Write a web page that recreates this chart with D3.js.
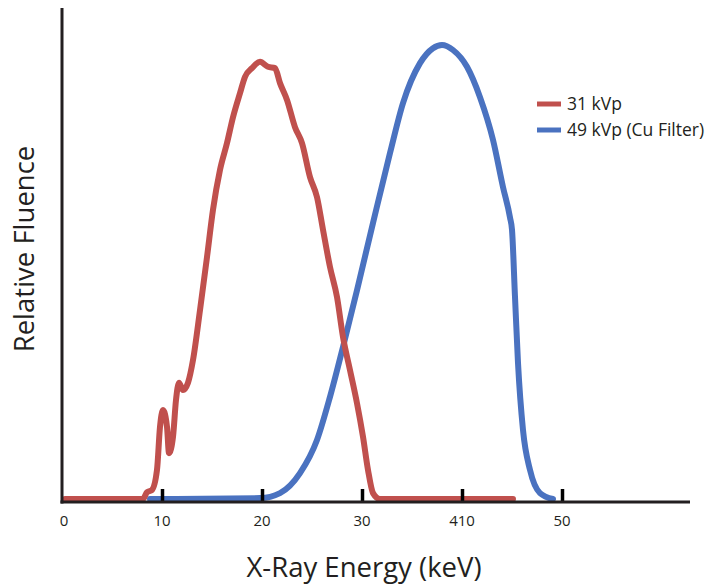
<!DOCTYPE html>
<html>
<head>
<meta charset="utf-8">
<script src="https://cdn.jsdelivr.net/npm/d3@7"></script>
<style>
  html, body { margin: 0; padding: 0; background: #fff; }
  svg { display: block; font-family: "Open Sans", "Noto Sans", sans-serif; }
</style>
</head>
<body>
<svg id="chart" width="710" height="584"></svg>
<script>
// ---- data ----
const seriesNames = ["31 kVp", "49 kVp (Cu Filter)"];
const seriesColors = ["#c0504d", "#4a72c0"];
const tickValues = [10, 20, 30, 40, 50];
const tickLabels = ["0", "10", "20", "30", "410", "50"];
const tickLabelValues = [0, 10, 20, 30, 40, 50];

const energy31 = [0.3, 8.1, 8.5, 9.0, 9.5, 9.8, 10.1, 10.5, 10.7, 11.1, 11.4, 11.7, 12.1, 12.6, 13.1, 13.8, 14.5, 15.1, 15.8, 16.5, 17.1, 17.8, 18.3, 19.0, 19.8, 20.6, 21.3, 21.8, 22.5, 23.3, 24.0, 24.8, 25.5, 26.1, 26.8, 27.5, 28.1, 28.8, 29.5, 30.1, 30.6, 31.1, 31.8, 45.1];
const fluence31 = [0, 0, 0.015, 0.02, 0.064, 0.159, 0.196, 0.159, 0.101, 0.137, 0.218, 0.256, 0.240, 0.256, 0.306, 0.416, 0.533, 0.637, 0.725, 0.784, 0.841, 0.894, 0.930, 0.949, 0.963, 0.952, 0.949, 0.916, 0.879, 0.819, 0.784, 0.709, 0.665, 0.593, 0.511, 0.445, 0.357, 0.284, 0.211, 0.137, 0.064, 0.013, 0, 0];

const energy49 = [8.8, 19.8, 21.8, 23.8, 25.5, 26.8, 28.1, 29.5, 31.1, 32.8, 34.1, 35.8, 37.1, 38.0, 39.1, 40.5, 41.8, 43.1, 44.1, 44.8, 45.0, 45.3, 45.6, 46.1, 46.8, 47.8, 49.1];
const fluence49 = [0, 0.002, 0.013, 0.057, 0.130, 0.225, 0.335, 0.460, 0.608, 0.762, 0.872, 0.960, 0.993, 1.0, 0.989, 0.952, 0.885, 0.791, 0.687, 0.62, 0.593, 0.445, 0.300, 0.152, 0.064, 0.013, 0];

// ---- chart ----
const svg = d3.select("#chart");
const x = d3.scaleLinear().domain([0, 62.8]).range([62, 690]);
const y = d3.scaleLinear().domain([0, 1]).range([499, 45]);
const axisY = 502;
const ink = "#231f20";

const series = [
  energy31.map((e, i) => ({ e, v: fluence31[i] })),
  energy49.map((e, i) => ({ e, v: fluence49[i] }))
];

const line = d3.line()
  .x(d => x(d.e))
  .y(d => y(d.v))
  .curve(d3.curveMonotoneX);

// curves (blue below red)
[1, 0].forEach(i => {
  svg.append("path")
    .attr("d", line(series[i]))
    .attr("fill", "none")
    .attr("stroke", seriesColors[i])
    .attr("stroke-width", 6)
    .attr("stroke-linejoin", "round")
    .attr("stroke-linecap", "round");
});

// y axis line
svg.append("line")
  .attr("x1", x(0)).attr("x2", x(0))
  .attr("y1", 8).attr("y2", axisY + 1.5)
  .attr("stroke", ink).attr("stroke-width", 3);

// x axis via d3 axis (ticks pointing up)
const xAxis = d3.axisTop(x)
  .tickValues(tickValues)
  .tickSize(13)
  .tickFormat("");
const gx = svg.append("g")
  .attr("transform", `translate(0,${axisY})`)
  .call(xAxis);
gx.select(".domain").remove();
gx.selectAll(".tick line").attr("stroke", "#000").attr("stroke-width", 3.5);

svg.append("line")
  .attr("x1", x(0) - 1.5).attr("x2", 690)
  .attr("y1", axisY).attr("y2", axisY)
  .attr("stroke", ink).attr("stroke-width", 3);

// tick labels
svg.append("g").selectAll("text")
  .data(tickLabelValues)
  .join("text")
  .attr("x", (d, i) => x(d) + (i === 0 ? 2 : 0))
  .attr("y", 526)
  .attr("text-anchor", "middle")
  .attr("font-size", 15)
  .attr("fill", ink)
  .text((d, i) => tickLabels[i]);

// axis titles
svg.append("text")
  .attr("x", 364).attr("y", 577)
  .attr("text-anchor", "middle")
  .attr("font-size", 27.5)
  .attr("fill", ink)
  .text("X-Ray Energy (keV)");

svg.append("text")
  .attr("transform", "translate(34,249) rotate(-90)")
  .attr("text-anchor", "middle")
  .attr("font-size", 27.5)
  .attr("fill", ink)
  .text("Relative Fluence");

// legend
const legend = svg.append("g");
seriesNames.forEach((name, i) => {
  const ly = 104 + i * 26;
  legend.append("line")
    .attr("x1", 537).attr("x2", 561)
    .attr("y1", ly).attr("y2", ly)
    .attr("stroke", seriesColors[i]).attr("stroke-width", 5);
  legend.append("text")
    .attr("x", 567).attr("y", ly + 5.5)
    .attr("font-size", 17.5)
    .attr("fill", ink)
    .text(name);
});
</script>
</body>
</html>
